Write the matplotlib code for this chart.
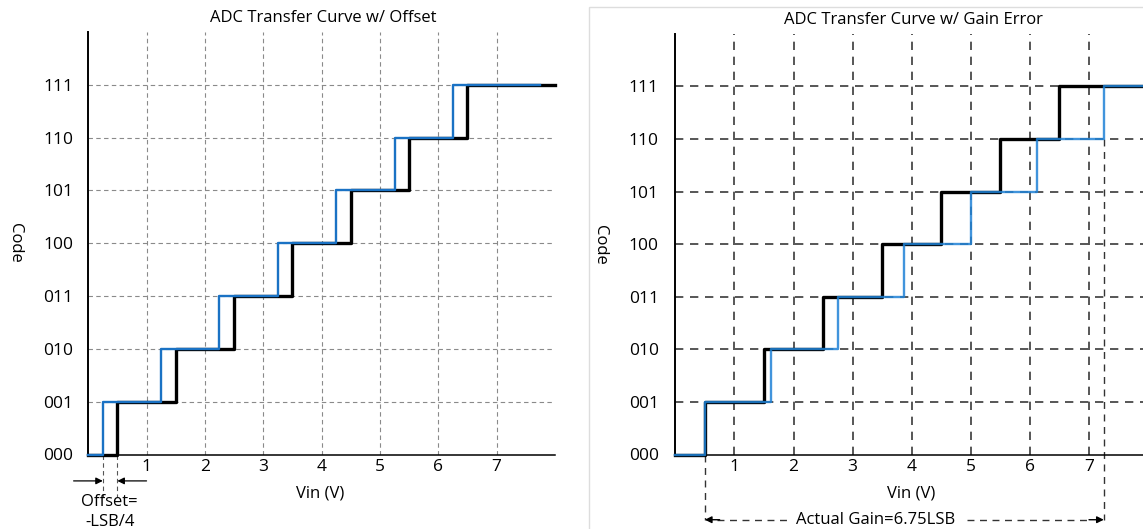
import matplotlib
matplotlib.use("Agg")
import matplotlib.pyplot as plt
from matplotlib.patches import Rectangle

plt.rcParams['font.family'] = ['Open Sans', 'DejaVu Sans']

codes = ['000', '001', '010', '011', '100', '101', '110', '111']
vin_ticks = [1, 2, 3, 4, 5, 6, 7]
ideal_edges = [0.5, 1.5, 2.5, 3.5, 4.5, 5.5, 6.5]
offset_edges = [0.25, 1.25, 2.25, 3.25, 4.25, 5.25, 6.25]
gain_edges = [0.5, 1.625, 2.75, 3.875, 5.0, 6.125, 7.25]

W, H = 1143, 529
fig = plt.figure(figsize=(W / 100, H / 100), dpi=100)


def fx(px):
    return px / W


def fy(py):
    return 1 - py / H


def step(edges, x_end):
    xs = [0] + list(edges) + [x_end]
    ys = list(range(len(edges) + 1)) + [len(edges)]
    return xs, ys


def setup(ax, grid_color, grid_lw, dashes, ypad):
    for s in ['top', 'right']:
        ax.spines[s].set_visible(False)
    ax.spines['left'].set_linewidth(1.4)
    ax.spines['bottom'].set_linewidth(1.1)
    ax.set_ylim(0, 8)
    ax.set_yticks(range(8))
    ax.set_yticklabels(codes, fontsize=12.5)
    ax.set_xticks(vin_ticks)
    ax.set_xticklabels([str(v) for v in vin_ticks], fontsize=12.5)
    ax.tick_params(axis='y', length=0, pad=ypad)
    ax.tick_params(axis='x', length=0, pad=3)
    for v in vin_ticks:
        ax.plot([v, v], [0, 8], color=grid_color, lw=grid_lw, dashes=dashes, zorder=1)
    for c in range(1, 8):
        ax.plot([0, 8.2], [c, c], color=grid_color, lw=grid_lw, dashes=dashes, zorder=1)


# ---- left: offset
ax1 = fig.add_axes([fx(88.2), fy(454.5), fx(555 - 88.2), (454.5 - 32) / H])
ax1.set_xlim(0, 8)
setup(ax1, '#8a8a8a', 0.8, (4, 3), 11)
xs, ys = step(ideal_edges, 8)
ax1.plot(xs, ys, drawstyle='steps-post', color='black', lw=2.4, zorder=3, clip_on=False)
xs, ys = step(offset_edges, 7.75)
ax1.plot(xs, ys, drawstyle='steps-post', color='#1a72c4', lw=1.7, zorder=4, clip_on=False)

for x0 in [0.25, 0.5]:
    ax1.plot([x0, x0], [0, -0.8], color='#555555', lw=0.8, dashes=(4, 3), clip_on=False)
ax1.annotate('', xy=(0.25, -0.5), xytext=(-0.25, -0.5), annotation_clip=False,
             arrowprops=dict(arrowstyle='-|>', color='black', lw=0.9, shrinkA=0, shrinkB=0,
                             mutation_scale=10))
ax1.annotate('', xy=(0.5, -0.5), xytext=(1.0, -0.5), annotation_clip=False,
             arrowprops=dict(arrowstyle='-|>', color='black', lw=0.9, shrinkA=0, shrinkB=0,
                             mutation_scale=10))
ax1.text(0.37, -0.9, 'Offset=', ha='center', va='center', fontsize=12, clip_on=False)
ax1.text(0.37, -1.27, '-LSB/4', ha='center', va='center', fontsize=12, clip_on=False)

fig.text(fx(322.8), fy(18.5), 'ADC Transfer Curve w/ Offset', ha='center', va='center', fontsize=12)
fig.text(fx(14.5), fy(243), 'Code', ha='center', va='center', rotation=270, fontsize=12)
fig.text(fx(320), fy(493), 'Vin (V)', ha='center', va='center', fontsize=12)

# ---- right: gain error
fig.patches.append(Rectangle((fx(588.8), -0.1), 1, fy(6.7) + 0.1, transform=fig.transFigure,
                             fill=False, edgecolor='#dddddd', lw=1.0))
x_right = (W - 675.3) / 59.1
ax2 = fig.add_axes([fx(675.3), fy(454.5), fx(W - 675.3), (454.5 - 33.7) / H])
ax2.set_xlim(0, x_right)
setup(ax2, '#3a3a3a', 1.2, (5, 4), 12)
xs, ys = step(ideal_edges, 8.5)
ax2.plot(xs, ys, drawstyle='steps-post', color='black', lw=2.4, zorder=3, clip_on=False)
xs, ys = step(gain_edges, 8.5)
ax2.plot(xs, ys, drawstyle='steps-post', color='#1f82d6', lw=1.7, alpha=0.85, zorder=4, clip_on=False)

ax2.plot([0.5, 0.5], [0, -1.24], color='#333333', lw=1.0, dashes=(5, 4), clip_on=False)
ax2.plot([7.25, 7.25], [6, -1.24], color='#333333', lw=1.0, dashes=(5, 4), clip_on=False, zorder=2)
ax2.plot([0.7, 7.05], [-1.24, -1.24], color='#333333', lw=1.0, dashes=(5, 4), clip_on=False)
ax2.annotate('', xy=(0.5, -1.24), xytext=(0.75, -1.24), annotation_clip=False,
             arrowprops=dict(arrowstyle='-|>', color='black', lw=1.0, shrinkA=0, shrinkB=0,
                             mutation_scale=10))
ax2.annotate('', xy=(7.25, -1.24), xytext=(7.0, -1.24), annotation_clip=False,
             arrowprops=dict(arrowstyle='-|>', color='black', lw=1.0, shrinkA=0, shrinkB=0,
                             mutation_scale=10))
ax2.text(3.39, -1.24, 'Actual Gain=6.75LSB', ha='center', va='center', fontsize=12, clip_on=False,
         bbox=dict(facecolor='white', edgecolor='none', pad=5))

fig.text(fx(913.6), fy(20), 'ADC Transfer Curve w/ Gain Error', ha='center', va='center', fontsize=12)
fig.text(fx(599.6), fy(244.6), 'Code', ha='center', va='center', rotation=270, fontsize=12)
fig.text(fx(911), fy(494), 'Vin (V)', ha='center', va='center', fontsize=12)

fig.savefig('out.png', dpi=100)
